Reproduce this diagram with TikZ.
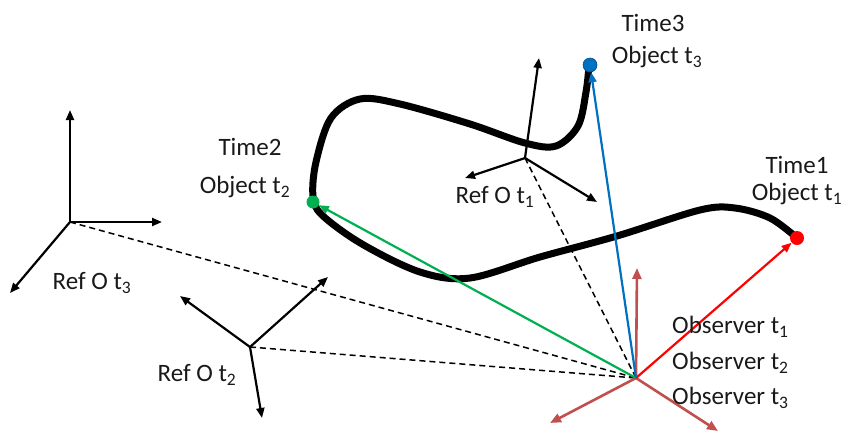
\documentclass[tikz,border=0pt]{standalone}
\usepackage{fontspec}
\setmainfont{Carlito}
\usetikzlibrary{arrows.meta}
\definecolor{obs}{RGB}{192,80,77}
\definecolor{tblue}{RGB}{0,112,192}
\definecolor{tgreen}{RGB}{0,176,80}
\definecolor{txt}{RGB}{25,25,25}
\begin{document}
\begin{tikzpicture}[x=1pt,y=-1pt,
  axis/.style={line width=2.2pt,-{Triangle[length=10pt,width=8pt]}},
  obsaxis/.style={obs,line width=2.6pt,-{Triangle[length=11pt,width=9pt]}},
  vec/.style={line width=2.2pt,-{Triangle[length=10pt,width=8pt]}},
  dashline/.style={line width=1.5pt,dash pattern=on 6pt off 4pt},
  lbl/.style={text=txt,font=\fontsize{25}{29}\selectfont,inner sep=0pt},
  dot/.style={circle,inner sep=0pt,minimum size=14pt}]
\useasboundingbox (0,0) rectangle (843,432);

% origins
\coordinate (O) at (636,378);
\coordinate (R1) at (525,158);
\coordinate (R2) at (250,347);
\coordinate (R3) at (70,222);
% object positions
\coordinate (P1) at (797,238);
\coordinate (P2) at (313,202);
\coordinate (P3) at (590,65);

% dashed links
\draw[dashline] (R1) -- (O);
\draw[dashline] (R2) -- (O);
\draw[dashline] (R3) -- (O);

% trajectory
\draw[line width=7pt,line cap=round,line join=round]
  plot[smooth,tension=0.55] coordinates {(797,238) (770,218) (735,208) (700,210) (617,236) (540,257) (470,278) (420,272) (362,244) (322,215) (313,196) (316,162) (331,118) (360,99) (400,104) (470,124) (525,143) (556,146) (578,126) (586,92) (589,66)};

% ref frames
\coordinate (R1a) at (539,58);
\coordinate (R1b) at (465,178);
\coordinate (R1c) at (597,202);
\draw[axis] (R1) -- (R1a);
\draw[axis] (R1) -- (R1b);
\draw[axis] (R1) -- (R1c);

\coordinate (R2a) at (180,296);
\coordinate (R2b) at (328,277);
\coordinate (R2c) at (262,418);
\draw[axis] (R2) -- (R2a);
\draw[axis] (R2) -- (R2b);
\draw[axis] (R2) -- (R2c);

\coordinate (R3a) at (70,110);
\coordinate (R3b) at (162,222);
\coordinate (R3c) at (10,293);
\draw[axis] (R3) -- (R3a);
\draw[axis] (R3) -- (R3b);
\draw[axis] (R3) -- (R3c);

% observer frame
\coordinate (Oa) at (637,268);
\coordinate (Ob) at (550,423);
\coordinate (Oc) at (718,431);
\draw[obsaxis] (O) -- (Oa);
\draw[obsaxis] (O) -- (Ob);
\draw[obsaxis] (O) -- (Oc);

% position vectors
\node[dot,fill=red] (D1) at (P1) {};
\node[dot,fill=tgreen,minimum size=13pt] (D2) at (P2) {};
\node[dot,fill=tblue,draw=tblue!70!black,line width=0.6pt] (D3) at (P3) {};
\draw[vec,red] (O) -- (D1);
\draw[vec,tgreen] (O) -- (D2);
\draw[vec,tblue] (O) -- (D3);

% labels
\node[lbl] (T3) at (653,23) {Time3};
\node[lbl] (OT3) at (657,57) {Object t\textsubscript{3}};
\node[lbl] (T1) at (797,165) {Time1};
\node[lbl] (OT1) at (797,194) {Object t\textsubscript{1}};
\node[lbl] (T2) at (250,147) {Time2};
\node[lbl] (OT2) at (245,187) {Object t\textsubscript{2}};
\node[lbl] (L1) at (495,197) {Ref O t\textsubscript{1}};
\node[lbl] (L2) at (197,375) {Ref O t\textsubscript{2}};
\node[lbl] (L3) at (92,283) {Ref O t\textsubscript{3}};
\node[lbl,anchor=west] (Ob1) at (672,327) {Observer t\textsubscript{1}};
\node[lbl,anchor=west] (Ob2) at (672,363) {Observer t\textsubscript{2}};
\node[lbl,anchor=west] (Ob3) at (672,398) {Observer t\textsubscript{3}};
\end{tikzpicture}
\end{document}
